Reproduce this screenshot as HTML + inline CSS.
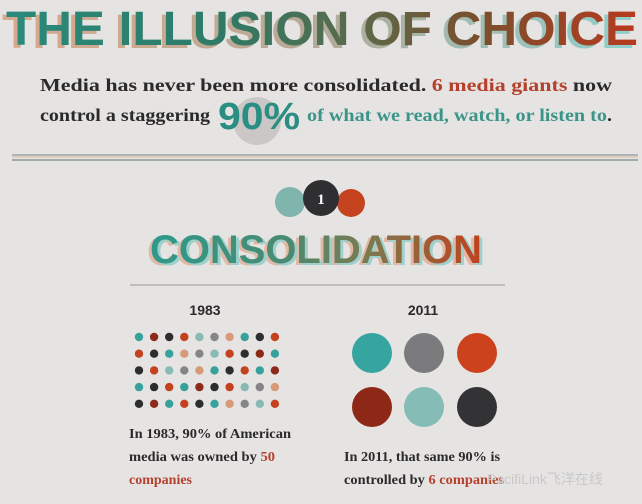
<!DOCTYPE html>
<html><head><meta charset="utf-8"><style>
html,body{margin:0;padding:0;}
body{width:642px;height:504px;background:#e6e4e3;overflow:hidden;position:relative;}
svg{position:absolute;left:0;top:0;}
</style></head><body>
<svg width="642" height="504" viewBox="0 0 642 504" xmlns="http://www.w3.org/2000/svg">
<defs>
<linearGradient id="tg" x1="0" x2="1" y1="0" y2="0">
<stop offset="0" stop-color="#2a8a7c"/><stop offset="0.35" stop-color="#2e7a66"/>
<stop offset="0.55" stop-color="#5b6a4a"/><stop offset="0.75" stop-color="#7a4f2e"/>
<stop offset="1" stop-color="#b83a1e"/></linearGradient>
<linearGradient id="sg" x1="0" x2="1" y1="0" y2="0">
<stop offset="0" stop-color="#d9a98c"/><stop offset="0.5" stop-color="#b3aa98"/>
<stop offset="1" stop-color="#8fcfcc"/></linearGradient>
<linearGradient id="cg" x1="0" x2="1" y1="0" y2="0">
<stop offset="0" stop-color="#2e9a8c"/><stop offset="0.4" stop-color="#4a8a72"/>
<stop offset="0.65" stop-color="#7a7a50"/><stop offset="1" stop-color="#c0421e"/></linearGradient>
</defs>
<rect width="642" height="504" fill="#e6e4e3"/>
<!-- Title -->
<g font-family="Liberation Sans, sans-serif" font-weight="bold" font-size="48">
<text x="2" y="48" textLength="632" lengthAdjust="spacingAndGlyphs" fill="url(#sg)">THE ILLUSION OF CHOICE</text>
<text x="6" y="45" textLength="632" lengthAdjust="spacingAndGlyphs" fill="url(#tg)">THE ILLUSION OF CHOICE</text>
</g>
<!-- Subtitle -->
<circle cx="257" cy="121" r="24" fill="#cbc7c7"/>
<g font-family="Liberation Serif, serif" font-weight="bold" font-size="18">
<text x="40" y="91" textLength="572" lengthAdjust="spacingAndGlyphs" fill="#2b2a2a">Media has never been more consolidated. <tspan fill="#b5402c">6 media giants</tspan> now</text>
<text x="40" y="121" textLength="170" lengthAdjust="spacingAndGlyphs" fill="#2b2a2a">control a staggering</text>
<text x="307" y="121" textLength="305" lengthAdjust="spacingAndGlyphs" fill="#3b9488">of what we read, watch, or listen to<tspan fill="#2b2a2a">.</tspan></text>
</g>
<text x="218" y="129" font-family="Liberation Sans, sans-serif" font-weight="bold" font-size="38" textLength="82" lengthAdjust="spacingAndGlyphs" fill="#2b8e82">90%</text>
<!-- divider -->
<line x1="12" y1="155" x2="638" y2="155" stroke="#9aa6a4" stroke-width="1.5"/>
<line x1="12" y1="157" x2="638" y2="157" stroke="#d9b9a0" stroke-width="1"/>
<line x1="12" y1="160" x2="638" y2="160" stroke="#8a9a98" stroke-width="1.5"/>
<!-- section number -->
<circle cx="290" cy="202" r="15" fill="#7fb5ad"/>
<circle cx="351" cy="203" r="14" fill="#c5431f"/>
<circle cx="321" cy="198" r="18" fill="#2f2e30"/>
<text x="321" y="204" text-anchor="middle" font-family="Liberation Serif, serif" font-weight="bold" font-size="15" fill="#fff">1</text>
<g font-family="Liberation Sans, sans-serif" font-weight="bold" font-size="40">
<text x="147" y="265" textLength="332" lengthAdjust="spacingAndGlyphs" fill="#e0b8a4">CONSOLIDATION</text>
<text x="153" y="265" textLength="332" lengthAdjust="spacingAndGlyphs" fill="#9ed0cc">CONSOLIDATION</text>
<text x="150" y="263" textLength="332" lengthAdjust="spacingAndGlyphs" fill="url(#cg)">CONSOLIDATION</text>
</g>
<line x1="130" y1="285" x2="505" y2="285" stroke="#a8a4a2" stroke-width="1.2"/>
<!-- years -->
<g font-family="Liberation Sans, sans-serif" font-weight="bold" font-size="14" fill="#2b2a2a" text-anchor="middle">
<text x="205" y="315">1983</text><text x="423" y="315">2011</text>
</g>
<!-- dots -->
<g id="dots"></g>
<!-- 2011 circles -->
<circle cx="372" cy="353" r="20" fill="#36a5a0"/>
<circle cx="424" cy="353" r="20" fill="#7b7a7c"/>
<circle cx="477" cy="353" r="20" fill="#cc421c"/>
<circle cx="372" cy="407" r="20" fill="#8e2816"/>
<circle cx="424" cy="407" r="20" fill="#85bcb5"/>
<circle cx="477" cy="407" r="20" fill="#333235"/>
<!-- bottom text -->
<g font-family="Liberation Serif, serif" font-weight="bold" font-size="14" fill="#2b2a2a">
<text x="129" y="438" textLength="162" lengthAdjust="spacingAndGlyphs">In 1983, 90% of American</text>
<text x="129" y="461" textLength="146" lengthAdjust="spacingAndGlyphs">media was owned by <tspan fill="#b5402c">50</tspan></text>
<text x="129" y="484" fill="#b5402c">companies</text>
<text x="344" y="461" textLength="156" lengthAdjust="spacingAndGlyphs">In 2011, that same 90% is</text>
<text x="344" y="484" textLength="160" lengthAdjust="spacingAndGlyphs">controlled by <tspan fill="#b5402c">6 companies</tspan></text>
</g>
<text x="487" y="484" font-family="Liberation Sans, Noto Sans CJK SC, sans-serif" font-size="14" fill="#c8c8c8">PacifiLink飞洋在线</text>
</svg>
<script>
var C={t:"#36a29b",d:"#8e2a1a",k:"#2d2c2e",r:"#c4411f",l:"#86bab3",g:"#858486",p:"#d69a78"};
var rows=["tdkrlgptkr","rktpglrkdt","krlgptkrtd","tkrtdkrlgp","kdtrktpglr"];
var g=document.getElementById("dots"),ns="http://www.w3.org/2000/svg";
rows.forEach(function(s,j){for(var i=0;i<10;i++){var c=document.createElementNS(ns,"circle");
c.setAttribute("cx",139+i*15.1);c.setAttribute("cy",337+j*16.7);c.setAttribute("r",4.2);
c.setAttribute("fill",C[s[i]]);g.appendChild(c);}});
</script>
</body></html>
